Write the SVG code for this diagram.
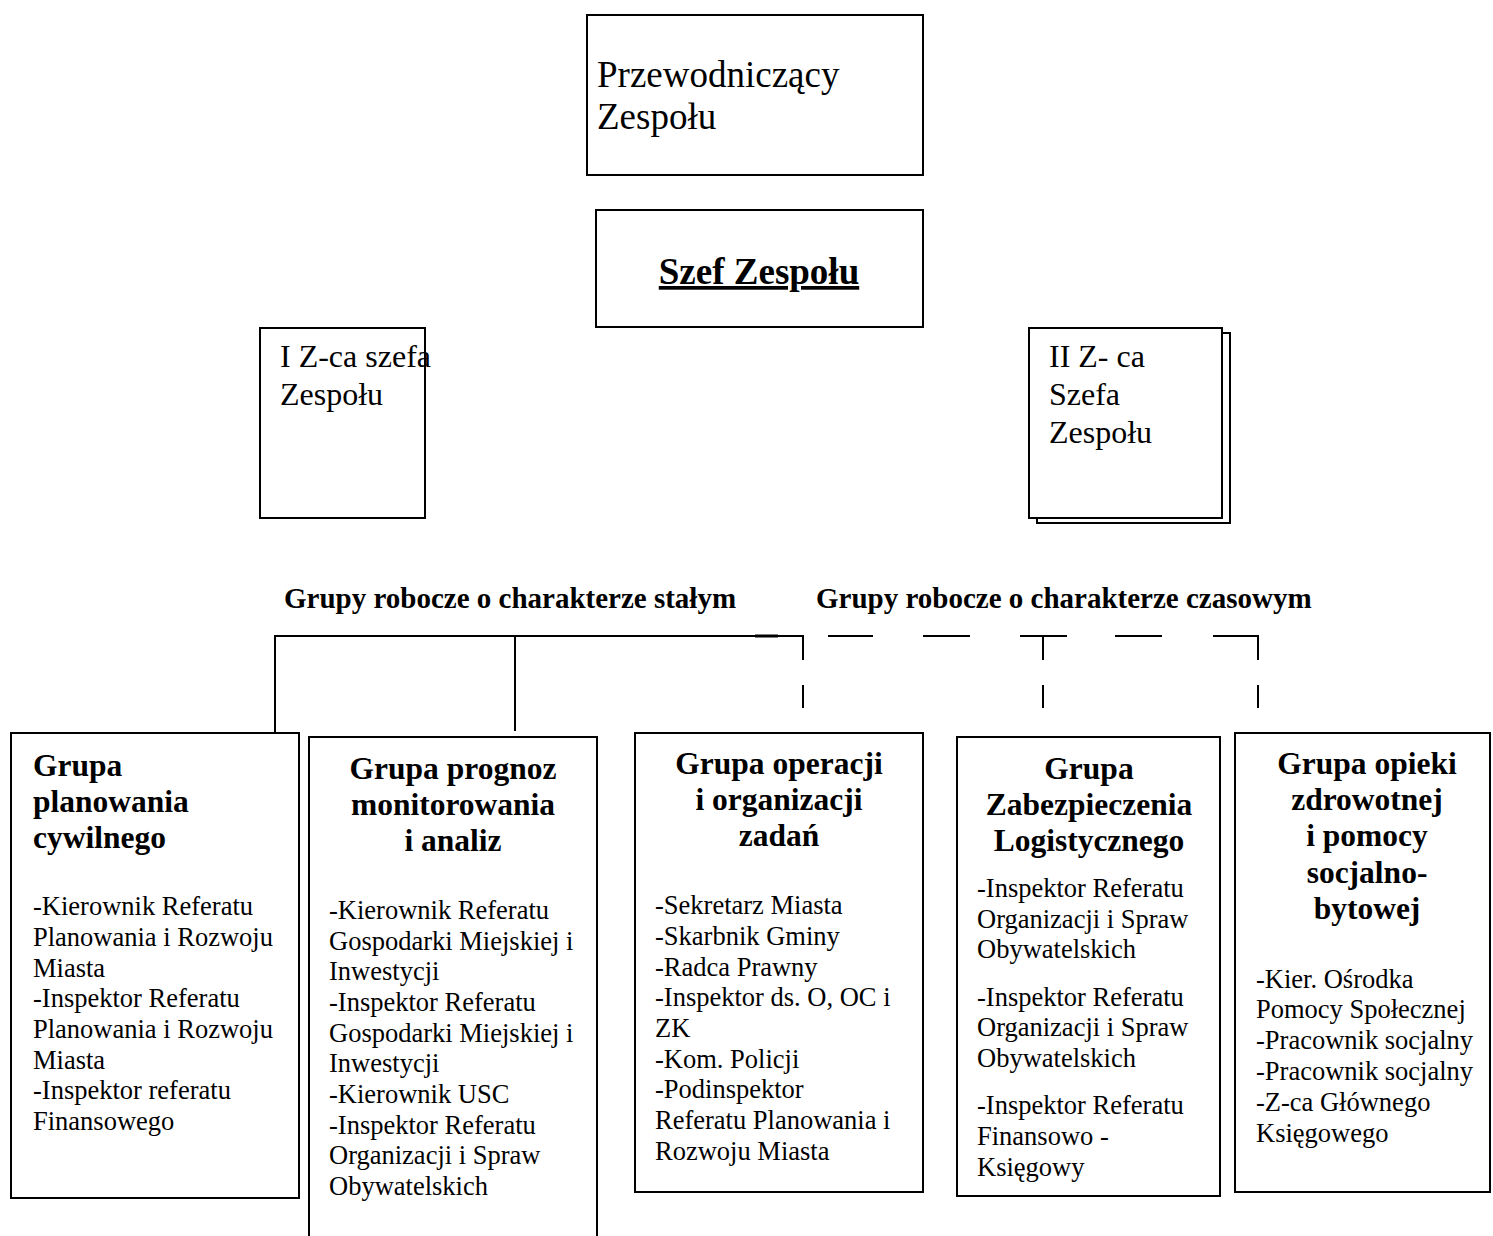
<svg xmlns="http://www.w3.org/2000/svg" width="1493" height="1236" viewBox="0 0 1493 1236">
<style>
  .box { fill: #fff; stroke: #000; stroke-width: 2; }
  .ln { stroke: #000; stroke-width: 2; fill: none; }
  text { font-family: "Liberation Serif", "Times New Roman", serif; fill: #000; }
  .top { font-size: 37px; }
  .dep { font-size: 32px; }
  .hdr { font-size: 29px; font-weight: bold; }
  .ttl { font-size: 31.5px; font-weight: bold; }
  .ttlc { font-size: 31.5px; font-weight: bold; text-anchor: middle; }
  .body { font-size: 26.5px; }
</style>
<rect width="1493" height="1236" fill="#fff"/>

<g id="connectors">
  <line class="ln" x1="275" y1="636" x2="803" y2="636"/>
  <line x1="755" y1="636" x2="778" y2="636" stroke="#000" stroke-width="3"/>
  <line class="ln" x1="275" y1="635" x2="275" y2="733"/>
  <line class="ln" x1="515" y1="635" x2="515" y2="731"/>
  <line class="ln" x1="803" y1="635" x2="803" y2="660"/>
  <line class="ln" x1="803" y1="685" x2="803" y2="708"/>
  <line class="ln" x1="828" y1="636" x2="873" y2="636"/>
  <line class="ln" x1="923" y1="636" x2="970" y2="636"/>
  <line class="ln" x1="1020" y1="636" x2="1067" y2="636"/>
  <line class="ln" x1="1043" y1="635" x2="1043" y2="660"/>
  <line class="ln" x1="1043" y1="685" x2="1043" y2="708"/>
  <line class="ln" x1="1115" y1="636" x2="1162" y2="636"/>
  <line class="ln" x1="1213" y1="636" x2="1259" y2="636"/>
  <line class="ln" x1="1258" y1="635" x2="1258" y2="660"/>
  <line class="ln" x1="1258" y1="685" x2="1258" y2="708"/>
</g>

<g id="przewodniczacy">
  <rect class="box" x="587" y="15" width="336" height="160"/>
  <text class="top" x="597" y="87">Przewodniczący</text>
  <text class="top" x="597" y="129">Zespołu</text>
</g>

<g id="szef">
  <rect class="box" x="596" y="210" width="327" height="117"/>
  <text x="759" y="284" font-size="37" font-weight="bold" text-anchor="middle" text-decoration="underline">Szef Zespołu</text>
</g>

<g id="z1">
  <rect class="box" x="260" y="328" width="165" height="190"/>
  <text class="dep" x="280" y="367">I Z-ca szefa</text>
  <text class="dep" x="280" y="405">Zespołu</text>
</g>

<g id="z2">
  <rect class="box" x="1037" y="333" width="193" height="190"/>
  <rect class="box" x="1029" y="328" width="193" height="190"/>
  <text class="dep" x="1049" y="367">II Z- ca</text>
  <text class="dep" x="1049" y="405">Szefa</text>
  <text class="dep" x="1049" y="443">Zespołu</text>
</g>

<g id="headers">
  <text class="hdr" x="284" y="608">Grupy robocze o charakterze stałym</text>
  <text class="hdr" x="816" y="608">Grupy robocze o charakterze czasowym</text>
</g>

<g id="grupa-planowania">
  <rect class="box" x="11" y="733" width="288" height="465"/>
  <text class="ttl" x="33" y="776">Grupa</text>
  <text class="ttl" x="33" y="812">planowania</text>
  <text class="ttl" x="33" y="848">cywilnego</text>
  <text class="body" x="33" y="915">-Kierownik Referatu</text>
  <text class="body" x="33" y="946">Planowania i Rozwoju</text>
  <text class="body" x="33" y="977">Miasta</text>
  <text class="body" x="33" y="1007">-Inspektor Referatu</text>
  <text class="body" x="33" y="1038">Planowania i Rozwoju</text>
  <text class="body" x="33" y="1069">Miasta</text>
  <text class="body" x="33" y="1099">-Inspektor referatu</text>
  <text class="body" x="33" y="1130">Finansowego</text>
</g>

<g id="grupa-prognoz">
  <path class="ln" d="M309,1240 V737 H597 V1240"/>
  <text class="ttlc" x="453" y="779">Grupa prognoz</text>
  <text class="ttlc" x="453" y="815">monitorowania</text>
  <text class="ttlc" x="453" y="851">i analiz</text>
  <text class="body" x="329" y="919">-Kierownik Referatu</text>
  <text class="body" x="329" y="950">Gospodarki Miejskiej i</text>
  <text class="body" x="329" y="980">Inwestycji</text>
  <text class="body" x="329" y="1011">-Inspektor Referatu</text>
  <text class="body" x="329" y="1042">Gospodarki Miejskiej i</text>
  <text class="body" x="329" y="1072">Inwestycji</text>
  <text class="body" x="329" y="1103">-Kierownik USC</text>
  <text class="body" x="329" y="1134">-Inspektor Referatu</text>
  <text class="body" x="329" y="1164">Organizacji i Spraw</text>
  <text class="body" x="329" y="1195">Obywatelskich</text>
</g>

<g id="grupa-operacji">
  <rect class="box" x="635" y="733" width="288" height="459"/>
  <text class="ttlc" x="779" y="774">Grupa operacji</text>
  <text class="ttlc" x="779" y="810">i organizacji</text>
  <text class="ttlc" x="779" y="846">zadań</text>
  <text class="body" x="655" y="914">-Sekretarz Miasta</text>
  <text class="body" x="655" y="945">-Skarbnik Gminy</text>
  <text class="body" x="655" y="976">-Radca Prawny</text>
  <text class="body" x="655" y="1006">-Inspektor ds. O, OC i</text>
  <text class="body" x="655" y="1037">ZK</text>
  <text class="body" x="655" y="1068">-Kom. Policji</text>
  <text class="body" x="655" y="1098">-Podinspektor</text>
  <text class="body" x="655" y="1129">Referatu Planowania i</text>
  <text class="body" x="655" y="1160">Rozwoju Miasta</text>
</g>

<g id="grupa-logistyki">
  <rect class="box" x="957" y="737" width="263" height="459"/>
  <text class="ttlc" x="1089" y="779">Grupa</text>
  <text class="ttlc" x="1089" y="815">Zabezpieczenia</text>
  <text class="ttlc" x="1089" y="851">Logistycznego</text>
  <text class="body" x="977" y="897">-Inspektor Referatu</text>
  <text class="body" x="977" y="928">Organizacji i Spraw</text>
  <text class="body" x="977" y="958">Obywatelskich</text>
  <text class="body" x="977" y="1006">-Inspektor Referatu</text>
  <text class="body" x="977" y="1036">Organizacji i Spraw</text>
  <text class="body" x="977" y="1067">Obywatelskich</text>
  <text class="body" x="977" y="1114">-Inspektor Referatu</text>
  <text class="body" x="977" y="1145">Finansowo -</text>
  <text class="body" x="977" y="1176">Księgowy</text>
</g>

<g id="grupa-opieki">
  <rect class="box" x="1235" y="733" width="255" height="459"/>
  <text class="ttlc" x="1367" y="774">Grupa opieki</text>
  <text class="ttlc" x="1367" y="810">zdrowotnej</text>
  <text class="ttlc" x="1367" y="846">i pomocy</text>
  <text class="ttlc" x="1367" y="883">socjalno-</text>
  <text class="ttlc" x="1367" y="919">bytowej</text>
  <text class="body" x="1256" y="988">-Kier. Ośrodka</text>
  <text class="body" x="1256" y="1018">Pomocy Społecznej</text>
  <text class="body" x="1256" y="1049">-Pracownik socjalny</text>
  <text class="body" x="1256" y="1080">-Pracownik socjalny</text>
  <text class="body" x="1256" y="1111">-Z-ca Głównego</text>
  <text class="body" x="1256" y="1142">Księgowego</text>
</g>
</svg>
